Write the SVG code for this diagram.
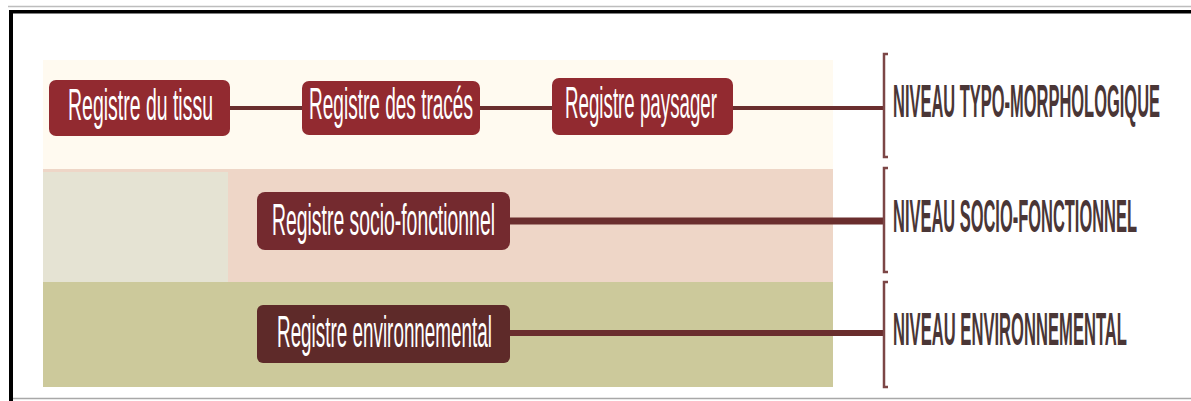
<svg xmlns="http://www.w3.org/2000/svg" width="1191" height="401" viewBox="0 0 1191 401">
  <style>
    .box-top { fill: #922a30; }
    .box-socio { fill: #742a2f; }
    .box-env { fill: #5e2a29; }
    /* condensed lettering: horizontal squeeze applied per text via scale() */
    .lbl { font-family: "Liberation Sans", Arial, sans-serif; font-size: 44px; fill: #ffffff; }
    .lvl { font-family: "Liberation Sans", Arial, sans-serif; font-size: 46px; font-weight: bold; fill: #4a3636; }
    .link { fill: none; stroke: #6a2e2e; }
    .brace { fill: none; stroke: #7c4646; stroke-width: 2.5; }
  </style>

  <!-- page background and frame -->
  <rect x="0" y="0" width="1191" height="401" fill="#ffffff"/>
  <line x1="8" y1="6.5" x2="1191" y2="6.5" stroke="#bdbdbd" stroke-width="1.5"/>
  <rect x="9" y="10" width="1182" height="3.5" fill="#000000"/>
  <rect x="9" y="10" width="4" height="391" fill="#000000"/>
  <line x1="13" y1="398.5" x2="1191" y2="398.5" stroke="#a8a8a8" stroke-width="1.5"/>

  <!-- background bands -->
  <g id="bands">
    <rect x="43" y="60" width="790" height="109" fill="#fffaf0"/>
    <rect x="43" y="169" width="790" height="113" fill="#eed6c7"/>
    <rect x="43" y="172" width="185" height="110" fill="#e5e3d3"/>
    <rect x="43" y="282" width="790" height="105" fill="#ccc99b"/>
  </g>

  <!-- connectors -->
  <g id="connectors">
    <line class="link" x1="230" y1="108" x2="302" y2="108" stroke-width="4"/>
    <line class="link" x1="480" y1="108" x2="552" y2="108" stroke-width="4"/>
    <line class="link" x1="733" y1="108" x2="884" y2="108" stroke-width="4"/>
    <line class="link" x1="510" y1="221" x2="884" y2="221" stroke-width="7" stroke="#632f2f"/>
    <line class="link" x1="510" y1="333" x2="884" y2="333" stroke-width="6" stroke="#582c28"/>
    <path class="brace" d="M888,54 H884 V157 H888"/>
    <path class="brace" d="M888,168 H884 V272 H888"/>
    <path class="brace" d="M888,282 H884 V387 H888"/>
  </g>

  <!-- register nodes -->
  <g id="registre-tissu">
    <rect class="box-top" x="49" y="80" width="181" height="56" rx="7"/>
    <text class="lbl" transform="scale(0.44,1)" x="154.55" y="120" textLength="329.5" lengthAdjust="spacingAndGlyphs">Registre du tissu</text>
  </g>
  <g id="registre-traces">
    <rect class="box-top" x="302" y="81" width="178" height="54" rx="7"/>
    <text class="lbl" transform="scale(0.44,1)" x="702.27" y="119" textLength="372.7" lengthAdjust="spacingAndGlyphs">Registre des tracés</text>
  </g>
  <g id="registre-paysager">
    <rect class="box-top" x="552" y="78" width="181" height="57" rx="7"/>
    <text class="lbl" transform="scale(0.44,1)" x="1284.09" y="118" textLength="345.5" lengthAdjust="spacingAndGlyphs">Registre paysager</text>
  </g>
  <g id="registre-socio">
    <rect class="box-socio" x="257" y="192" width="253" height="58" rx="8"/>
    <text class="lbl" transform="scale(0.44,1)" x="618.18" y="235" textLength="506.8" lengthAdjust="spacingAndGlyphs">Registre socio-fonctionnel</text>
  </g>
  <g id="registre-env">
    <rect class="box-env" x="257" y="305" width="253" height="58" rx="6"/>
    <text class="lbl" transform="scale(0.44,1)" x="629.55" y="347" textLength="488.6" lengthAdjust="spacingAndGlyphs">Registre environnemental</text>
  </g>

  <!-- level labels -->
  <g id="niveau-typo">
    <text class="lvl" transform="scale(0.35,1)" x="2551.43" y="117" textLength="762.86" lengthAdjust="spacingAndGlyphs">NIVEAU TYPO-MORPHOLOGIQUE</text>
  </g>
  <g id="niveau-socio">
    <text class="lvl" transform="scale(0.35,1)" x="2551.43" y="232" textLength="697.14" lengthAdjust="spacingAndGlyphs">NIVEAU SOCIO-FONCTIONNEL</text>
  </g>
  <g id="niveau-env">
    <text class="lvl" transform="scale(0.35,1)" x="2551.43" y="345" textLength="668.57" lengthAdjust="spacingAndGlyphs">NIVEAU ENVIRONNEMENTAL</text>
  </g>
</svg>
